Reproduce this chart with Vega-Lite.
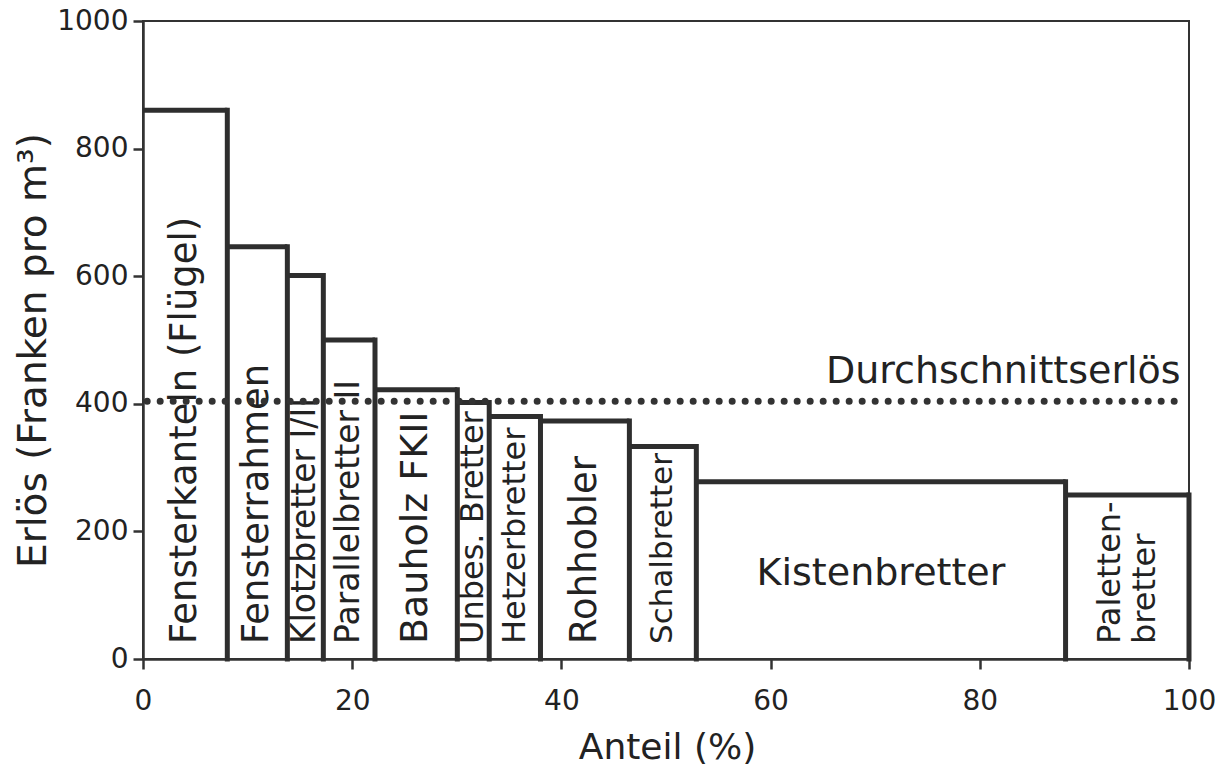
{
  "$schema": "https://vega.github.io/schema/vega-lite/v6.json",
  "width": 1046,
  "height": 638,
  "autosize": {"type": "none"},
  "padding": {"left": 143, "top": 21, "right": 31, "bottom": 108},
  "background": "white",
  "config": {
    "font": "DejaVu Sans",
    "view": {"stroke": "#333333", "strokeWidth": 2},
    "axis": {
      "grid": false,
      "domainColor": "#333333",
      "domainWidth": 2.5,
      "tickColor": "#333333",
      "tickWidth": 2.5,
      "tickSize": 10,
      "labelFont": "DejaVu Sans",
      "labelFontSize": 28,
      "labelColor": "#222222",
      "labelFlush": false,
      "titleFont": "DejaVu Sans",
      "titleFontWeight": "normal",
      "titleColor": "#222222"
    }
  },
  "data": {
    "values": [
      {"name": "Fensterkanteln (Flügel)", "x0": 0, "x1": 8.06, "erloes": 860},
      {"name": "Fensterrahmen", "x0": 8.06, "x1": 13.8, "erloes": 646},
      {"name": "Klotzbretter I/II", "x0": 13.8, "x1": 17.24, "erloes": 601},
      {"name": "Parallelbretter II", "x0": 17.24, "x1": 22.18, "erloes": 500},
      {"name": "Bauholz FKII", "x0": 22.18, "x1": 30.05, "erloes": 422},
      {"name": "Unbes. Bretter", "x0": 30.05, "x1": 33.1, "erloes": 402},
      {"name": "Hetzerbretter", "x0": 33.1, "x1": 38.0, "erloes": 380},
      {"name": "Rohhobler", "x0": 38.0, "x1": 46.5, "erloes": 373},
      {"name": "Schalbretter", "x0": 46.5, "x1": 52.9, "erloes": 333},
      {"name": "Kistenbretter", "x0": 52.9, "x1": 88.2, "erloes": 278},
      {"name": "Paletten-\nbretter", "x0": 88.2, "x1": 100, "erloes": 257}
    ]
  },
  "layer": [
    {
      "mark": {"type": "rule", "stroke": "#2e2e2e", "strokeWidth": 5, "strokeCap": "butt"},
      "encoding": {
        "x": {
          "field": "x0", "type": "quantitative",
          "scale": {"domain": [0, 100], "nice": false, "zero": false},
          "axis": {
            "values": [0, 20, 40, 60, 80, 100],
            "labelPadding": 18,
            "title": "Anteil (%)",
            "titleFontSize": 36,
            "titleX": 524,
            "titleY": 99,
            "titleAlign": "center",
            "titleBaseline": "alphabetic"
          }
        },
        "x2": {"field": "x1"},
        "y": {
          "field": "erloes", "type": "quantitative",
          "scale": {"domain": [0, 1000], "nice": false},
          "axis": {
            "values": [0, 200, 400, 600, 800, 1000],
            "format": "d",
            "labelPadding": 5,
            "title": "Erlös (Franken pro m³)",
            "titleFontSize": 39,
            "titleAngle": 270,
            "titleX": -98,
            "titleY": 329,
            "titleAlign": "center",
            "titleBaseline": "alphabetic"
          }
        }
      }
    },
    {
      "mark": {"type": "rule", "stroke": "#2e2e2e", "strokeWidth": 5, "strokeCap": "square"},
      "encoding": {
        "x": {"field": "x1", "type": "quantitative"},
        "y": {"field": "erloes", "type": "quantitative"},
        "y2": {"datum": 0}
      }
    },
    {
      "transform": [
        {"filter": "datum.name != 'Kistenbretter' && datum.name != 'Paletten-\\nbretter'"},
        {"calculate": "(datum.x0 + datum.x1) / 2", "as": "xm"}
      ],
      "mark": {"type": "text", "angle": 270, "align": "left", "baseline": "middle", "dx": 15, "color": "#222222"},
      "encoding": {
        "x": {"field": "xm", "type": "quantitative"},
        "y": {"datum": 0, "type": "quantitative"},
        "text": {"field": "name", "type": "nominal"},
        "size": {
          "field": "name", "type": "nominal", "legend": null,
          "scale": {
            "type": "ordinal",
            "domain": ["Fensterkanteln (Flügel)", "Fensterrahmen", "Klotzbretter I/II", "Parallelbretter II", "Bauholz FKII", "Unbes. Bretter", "Hetzerbretter", "Rohhobler", "Schalbretter"],
            "range": [37, 37, 33, 33, 38, 32, 32, 37, 31]
          }
        }
      }
    },
    {
      "transform": [
        {"filter": "datum.name == 'Paletten-\\nbretter'"},
        {"calculate": "(datum.x0 + datum.x1) / 2", "as": "xm"}
      ],
      "mark": {"type": "text", "angle": 270, "align": "left", "baseline": "middle", "dx": 15, "dy": -17, "fontSize": 32, "lineBreak": "\n", "lineHeight": 35, "color": "#222222"},
      "encoding": {
        "x": {"field": "xm", "type": "quantitative"},
        "y": {"datum": 0, "type": "quantitative"},
        "text": {"field": "name", "type": "nominal"}
      }
    },
    {
      "transform": [
        {"filter": "datum.name == 'Kistenbretter'"},
        {"calculate": "(datum.x0 + datum.x1) / 2", "as": "xm"}
      ],
      "mark": {"type": "text", "align": "center", "baseline": "alphabetic", "fontSize": 38, "color": "#222222"},
      "encoding": {
        "x": {"field": "xm", "type": "quantitative"},
        "y": {"datum": 116, "type": "quantitative"},
        "text": {"field": "name", "type": "nominal"}
      }
    },
    {
      "data": {"values": [{"mittel": 404}]},
      "mark": {"type": "rule", "stroke": "#333333", "strokeWidth": 7, "strokeDash": [0, 13], "strokeCap": "round"},
      "encoding": {
        "x": {"datum": 0.4, "type": "quantitative"},
        "x2": {"datum": 99.4},
        "y": {"field": "mittel", "type": "quantitative"}
      }
    },
    {
      "data": {"values": [{"text": "Durchschnittserlös"}]},
      "mark": {"type": "text", "align": "right", "baseline": "alphabetic", "fontSize": 38, "color": "#222222"},
      "encoding": {
        "x": {"datum": 99.2, "type": "quantitative"},
        "y": {"datum": 433, "type": "quantitative"},
        "text": {"field": "text", "type": "nominal"}
      }
    }
  ]
}
